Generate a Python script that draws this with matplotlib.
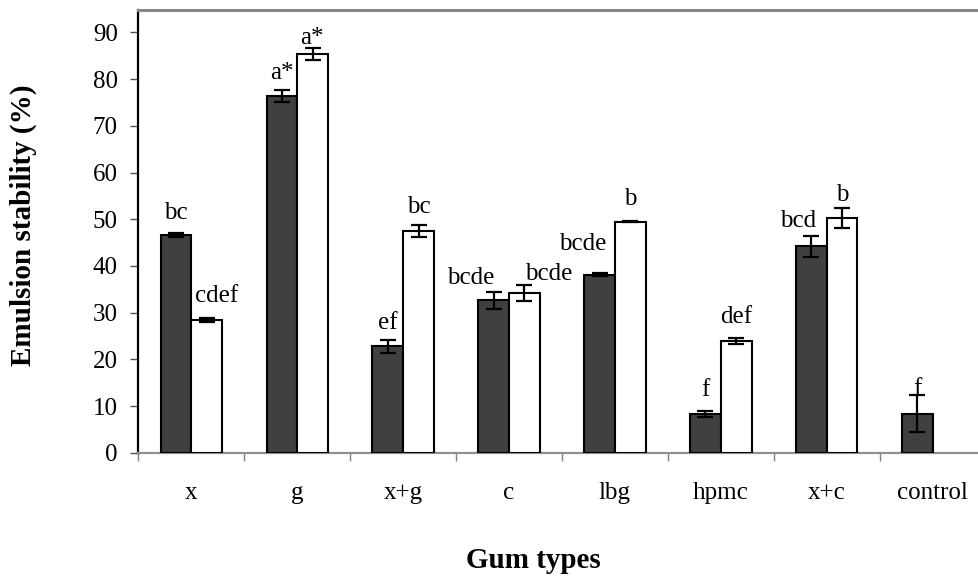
import matplotlib
matplotlib.use("Agg")
import matplotlib.pyplot as plt
import numpy as np

plt.rcParams['font.family'] = ['Liberation Serif', 'DejaVu Serif']

categories = ["x", "g", "x+g", "c", "lbg", "hpmc", "x+c", "control"]
dark_values = [46.6, 76.4, 22.8, 32.6, 38.1, 8.2, 44.2, 8.3]
dark_errors = [0.5, 1.2, 1.35, 1.75, 0.3, 0.65, 2.2, 3.95]
white_values = [28.4, 85.4, 47.5, 34.2, 49.5, 23.9, 50.3, 0.0]
white_errors = [0.5, 1.25, 1.3, 1.75, 0.2, 0.7, 2.2, 0.0]
dark_letters = ["bc", "a*", "ef", "bcde", "bcde", "f", "bcd", "f"]
white_letters = ["cdef", "a*", "bc", "bcde", "b", "def", "b", ""]

# label offsets in pixels (dx, gap above error bar top)
dark_label_offsets = [(0, 14), (0, 11), (0, 11), (-23, 8), (-17, 23), (0, 15), (-13, 9), (0, 0)]
white_label_offsets = [(10, 16), (-1, 4), (0, 12), (24, 5), (0, 16), (0, 15), (0, 7), (0, 0)]

W, H = 979, 578
fig = plt.figure(figsize=(W / 100, H / 100), dpi=100)
ax_left, ax_right, ax_top, ax_bottom = 138.5, 985.5, 10, 452.7
ax = fig.add_axes([ax_left / W, (H - ax_bottom) / H,
                   (ax_right - ax_left) / W, (ax_bottom - ax_top) / H])

x = np.arange(len(categories))
bw = 0.29
dark_col = '#404040'
ax.bar(x - bw / 2, dark_values, bw, color=dark_col, edgecolor='black', linewidth=1.5, zorder=3)
white_mask = np.array(white_values) > 0
ax.bar(x[white_mask] + bw / 2, np.array(white_values)[white_mask], bw, color='white',
       edgecolor='black', linewidth=1.5, zorder=3)
ax.errorbar(x - bw / 2, dark_values, yerr=dark_errors, fmt='none', ecolor='black',
            elinewidth=1.6, capsize=5.5, capthick=1.6, zorder=4)
ax.errorbar(x[white_mask] + bw / 2, np.array(white_values)[white_mask],
            yerr=np.array(white_errors)[white_mask], fmt='none', ecolor='black',
            elinewidth=1.6, capsize=5.5, capthick=1.6, zorder=4)

px = 0.72  # points per pixel at 100 dpi
lab_fs = 18
for i in range(len(categories)):
    if dark_letters[i]:
        dx, dy = dark_label_offsets[i]
        ax.annotate(dark_letters[i], (x[i] - bw / 2, dark_values[i] + dark_errors[i]),
                    xytext=(dx * px, dy * px), textcoords='offset points',
                    ha='center', va='baseline', fontsize=lab_fs, zorder=5)
    if white_letters[i]:
        dx, dy = white_label_offsets[i]
        ax.annotate(white_letters[i], (x[i] + bw / 2, white_values[i] + white_errors[i]),
                    xytext=(dx * px, dy * px), textcoords='offset points',
                    ha='center', va='baseline', fontsize=lab_fs, zorder=5)

ax.set_xlim(-0.5, len(categories) - 0.5)
ax.set_ylim(0, 94.8)
ax.set_yticks(np.arange(0, 91, 10))
ax.set_xticks(x)
ax.set_xticklabels(categories)
ax.set_xticks(np.arange(-0.5, len(categories) + 0.5, 1), minor=True)
ax.tick_params(axis='x', which='major', length=0, pad=21, labelsize=18)
ax.tick_params(axis='x', which='minor', length=6, width=1, color='#808080', direction='out')
ax.tick_params(axis='y', which='major', length=6, width=1, color='#505050', pad=9, labelsize=18)

ax.spines['left'].set_color('black')
ax.spines['left'].set_linewidth(1.6)
ax.spines['bottom'].set_color('#909090')
ax.spines['bottom'].set_linewidth(1.6)
ax.spines['top'].set_color('#888888')
ax.spines['top'].set_linewidth(2.2)
ax.spines['right'].set_visible(False)

fig.text(533 / W, 1 - 561 / H, "Gum types", ha='center', va='center',
         fontsize=21, fontweight='bold')
fig.text(23 / W, 1 - 225 / H, "Emulsion stability (%)", ha='center', va='center',
         rotation=90, fontsize=21, fontweight='bold')

fig.savefig("out.png", dpi=100)
